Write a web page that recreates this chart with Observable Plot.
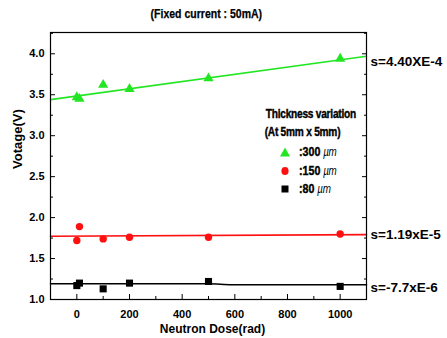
<!DOCTYPE html>
<html>
<head>
<meta charset="utf-8">
<script src="https://cdn.jsdelivr.net/npm/d3@7"></script>
<script src="https://cdn.jsdelivr.net/npm/@observablehq/plot@0.6"></script>
<style>
  html, body { margin: 0; padding: 0; background: #fff; }
  #wrap { position: relative; width: 447px; height: 338px; font-family: "Liberation Sans", Arial, sans-serif; color: #000; }
  #title { height: 26px; width: 412px; text-align: center; }
  #title span { display: inline-block; font-size: 12.5px; font-weight: bold; line-height: 14px; margin-top: 7px; transform: scaleX(0.84); -webkit-text-stroke: 0.25px #000; }
  .lg { position: absolute; font-weight: bold; white-space: nowrap; }
  .lgc { text-align: center; width: 110px; font-size: 13px; line-height: 14px; }
  .lgc span { display: inline-block; transform: scaleX(0.78); letter-spacing: -0.3px; -webkit-text-stroke: 0.4px #000; }
  .row { position: absolute; height: 14px; line-height: 14px; font-size: 13px; white-space: nowrap; }
  .row svg { position: absolute; left: -20px; top: 2px; }
  .row span.t { display: inline-block; transform: scaleX(0.82); transform-origin: left center; font-weight: bold; -webkit-text-stroke: 0.4px #000; }
  .row i { font-weight: normal; font-size: 12px; letter-spacing: -0.5px; -webkit-text-stroke: 0; }
</style>
</head>
<body>
<div id="wrap">
  <div id="title"><span>(Fixed current : 50mA)</span></div>
  <div id="chart"></div>
  <div class="lg lgc" style="left:253px; top:107px;"><span>Thickness variation</span></div>
  <div class="lg lgc" style="left:247px; top:125px;"><span>(At 5mm x 5mm)</span></div>
  <div class="row" style="left:299px; top:145px;"><svg width="12" height="10"><path d="M6,0.5 L11,9.5 L1,9.5 Z" fill="#22e622"/></svg><span class="t">:300 <i>µm</i></span></div>
  <div class="row" style="left:299px; top:164px;"><svg width="12" height="10"><ellipse cx="6" cy="5" rx="3.6" ry="4" fill="#ff1010"/></svg><span class="t">:150 <i>µm</i></span></div>
  <div class="row" style="left:299px; top:182px;"><svg width="12" height="10"><rect x="2.5" y="1.5" width="7" height="7" fill="#000"/></svg><span class="t">:80 <i>µm</i></span></div>
</div>
<script>
// Measured data (Neutron dose in rad, voltage in V)
const doses = [0, 10, 100, 200, 500, 1000];
const v300 = [3.47, 3.45, 3.62, 3.57, 3.70, 3.94];
const v150 = [1.72, 1.89, 1.74, 1.76, 1.76, 1.80];
const v80  = [1.17, 1.20, 1.13, 1.20, 1.22, 1.16];

// Fitted lines
const fit300X = [-100, 1100];
const fit300Y = [3.44, 3.97];
const fit150X = [-100, 1100];
const fit150Y = [1.772, 1.792];
const fit80X  = [-100, 500, 590, 1100];
const fit80Y  = [1.192, 1.192, 1.180, 1.180];

// Slope labels and their vertical positions
const slopeLabels = ["s=4.40XE-4", "s=1.19xE-5", "s=-7.7xE-6"];
const slopeLabelY = [3.90, 1.79, 1.145];

// Ticks
const xMajor = [0, 200, 400, 600, 800, 1000];
const xMinor = [100, 300, 500, 700, 900];
const yMajor = [1.0, 1.5, 2.0, 2.5, 3.0, 3.5, 4.0];
const yMinor = [1.25, 1.75, 2.25, 2.75, 3.25, 3.75, 4.25];

const green = "#22e622", red = "#ff1010", black = "#000000";

const pts = (ys) => doses.map((d, i) => ({x: d, y: ys[i]}));
const fit = (xs, ys) => xs.map((d, i) => ({x: d, y: ys[i]}));
const xMax = fit300X[fit300X.length - 1];
const labels = slopeLabels.map((t, i) => ({x: xMax, y: slopeLabelY[i], t}));

const chart = Plot.plot({
  width: 447,
  height: 312,
  marginTop: 6,
  marginLeft: 50,
  marginRight: 81,
  marginBottom: 39,
  style: {fontFamily: "'Liberation Sans', Arial, sans-serif", fontSize: "11px", fontWeight: "bold", color: "#000", background: "#fff", overflow: "visible"},
  x: {domain: [-100, 1100]},
  y: {domain: [1.0, 4.26]},
  marks: [
    Plot.axisX({ticks: xMajor, tickSize: -5, tickPadding: 16, tickFormat: d => String(d), label: null, fontSize: 11}),
    Plot.axisX({ticks: xMinor, tickSize: -3, tickFormat: () => "", label: null}),
    Plot.axisY({ticks: yMajor, tickSize: -5, tickPadding: 11, tickFormat: d => d.toFixed(1), label: null, fontSize: 11}),
    Plot.axisY({ticks: yMinor, tickSize: -3, tickFormat: () => "", label: null}),
    Plot.axisY({anchor: "right", ticks: yMajor, tickSize: -5, tickFormat: () => "", label: null}),
    Plot.axisY({anchor: "right", ticks: yMinor, tickSize: -3, tickFormat: () => "", label: null}),
    Plot.text(["Neutron Dose(rad)"], {frameAnchor: "bottom", dy: 29.5, dx: 4, fontSize: 12, fontWeight: "bold", lineAnchor: "middle"}),
    Plot.text(["Votage(V)"], {frameAnchor: "left", rotate: -90, dx: -33, dy: 3, fontSize: 13, fontWeight: "bold", lineAnchor: "middle"}),
    Plot.line(fit(fit300X, fit300Y), {x: "x", y: "y", stroke: green, strokeWidth: 1.6}),
    Plot.line(fit(fit150X, fit150Y), {x: "x", y: "y", stroke: red, strokeWidth: 1.6}),
    Plot.line(fit(fit80X, fit80Y), {x: "x", y: "y", stroke: black, strokeWidth: 1.6, curve: "monotone-x"}),
    Plot.dot(pts(v300), {x: "x", y: "y", symbol: "triangle", r: 3.8, fill: green}),
    Plot.dot(pts(v150), {x: "x", y: "y", symbol: "circle", r: 3.7, fill: red}),
    Plot.dot(pts(v80), {x: "x", y: "y", symbol: "square", r: 4.0, fill: black}),
    Plot.text(labels, {x: "x", y: "y", text: "t", textAnchor: "start", dx: 4, fontSize: 13.5, fontWeight: "bold"}),
    Plot.frame({stroke: "#000", strokeWidth: 1.2})
  ]
});
document.getElementById("chart").appendChild(chart);
</script>
</body>
</html>
